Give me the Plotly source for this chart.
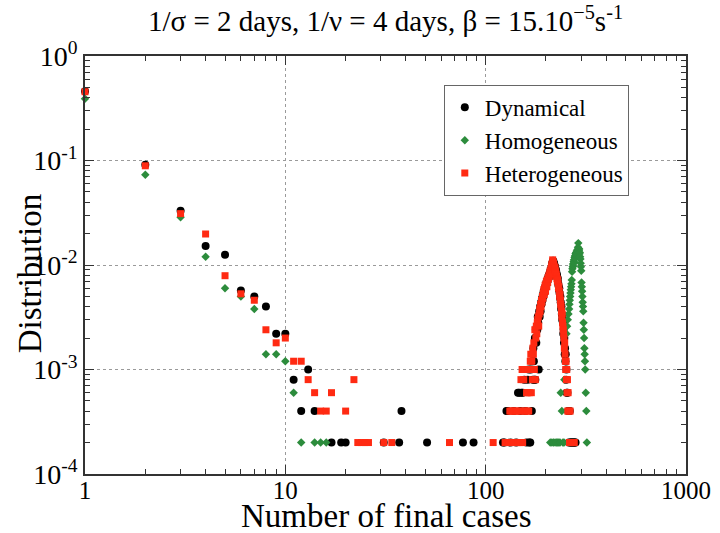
import plotly.graph_objects as go

# ---------------- data (distribution vs number of final cases) ----------------
dyn_x = [1, 2, 3, 4, 5, 6, 7, 8, 9, 10, 11, 12, 13, 14, 17, 19, 20, 31, 37, 38, 51, 77, 87,
         122, 124, 127, 129, 133, 138, 142, 145, 147, 149, 151, 153, 156, 158, 160, 162, 164, 165, 167, 168,
         170, 171, 172, 173, 174, 175, 176, 177, 178, 179, 180, 181, 182, 183, 184, 185, 186, 187, 188, 189,
         190, 191, 192, 193, 194, 195, 196, 197, 198, 199, 200, 201, 202, 203, 204, 205, 206, 207, 208, 209,
         210, 211, 212, 213, 214, 215, 216, 217, 218, 219, 220, 221, 222, 223, 224, 225, 226, 227, 228, 229,
         230, 231, 232, 233, 234, 235, 236, 237, 238, 239, 240, 241, 242, 243, 244, 245, 246, 247, 248, 249,
         250, 251, 252, 253, 254, 256, 258, 260, 263, 265, 267, 270, 273, 276, 279, 281]
dyn_y = [0.46, 0.091, 0.033, 0.0152, 0.0125, 0.0057, 0.0050, 0.0040, 0.0022, 0.0022, 0.0008, 0.0004, 0.0010,
         0.0004, 0.0002, 0.0002, 0.0002, 0.0002, 0.0002, 0.0004, 0.0002, 0.0002, 0.0002,
         0.0002, 0.0002, 0.0004, 0.0004, 0.0002, 0.0004, 0.0002, 0.0006, 0.0006, 0.0004, 0.0006, 0.0006, 0.0008,
         0.0004, 0.0002, 0.0008, 0.0010, 0.0002, 0.0002, 0.0010,
         0.0004, 0.0012, 0.0008, 0.0016, 0.0012, 0.0008, 0.0020, 0.0008, 0.0024, 0.0018, 0.0026, 0.0024, 0.0032,
         0.0028, 0.0010, 0.0036, 0.0032, 0.0040, 0.0036, 0.0044,
         0.0042, 0.0048, 0.0046, 0.0052, 0.0050, 0.0056, 0.0054, 0.0058, 0.0062, 0.0060, 0.0064, 0.0068, 0.0066,
         0.0070, 0.0074, 0.0072, 0.0078, 0.0076, 0.0082, 0.0080,
         0.0086, 0.0090, 0.0088, 0.0094, 0.0098, 0.0104, 0.0106, 0.0110, 0.0108, 0.0104, 0.0102, 0.0098, 0.0096,
         0.0092, 0.0090, 0.0086, 0.0082, 0.0080, 0.0076, 0.0074,
         0.0068, 0.0064, 0.0058, 0.0060, 0.0054, 0.0048, 0.0050, 0.0044, 0.0038, 0.0040, 0.0034, 0.0030, 0.0032,
         0.0028, 0.0022, 0.0024, 0.0018, 0.0020, 0.0014, 0.0016,
         0.0012, 0.0014, 0.0008, 0.0010, 0.0006, 0.0006, 0.0004, 0.0002, 0.0004, 0.0002, 0.0002, 0.0002, 0.0002,
         0.0002, 0.0002, 0.0002]

hom_x = [1, 2, 3, 4, 5, 6, 7, 8, 9, 10, 11, 12, 14, 15, 16,
         210, 214, 218, 222, 226, 229, 232, 235, 237, 240, 243, 246, 247, 250,
         253, 255, 257, 259, 261, 262, 263, 264, 265, 266, 267, 268, 269, 270, 271, 272, 273, 274, 275, 276,
         277, 278, 279, 280, 281, 282, 283, 284, 285, 286, 287, 288, 289, 290, 291, 292, 293, 294, 295, 296,
         297, 298, 299, 300, 301, 302, 303, 304, 305, 306, 307, 308, 309, 310, 311, 312, 313, 314, 316, 318, 320]
hom_y = [0.39, 0.073, 0.0286, 0.012, 0.0060, 0.0050, 0.0038, 0.0014, 0.0014, 0.0012, 0.0006, 0.0002, 0.0002,
         0.0002, 0.0002,
         0.0002, 0.0002, 0.0002, 0.0002, 0.0002, 0.0002, 0.0002, 0.0002, 0.0006, 0.0004, 0.0002, 0.0002, 0.0008,
         0.0012,
         0.0022, 0.0026, 0.0030, 0.0034, 0.0038, 0.0042, 0.0046, 0.0050, 0.0054, 0.0058, 0.0062, 0.0066, 0.0072,
         0.0086, 0.0092, 0.0096, 0.0102, 0.0098, 0.0108, 0.0112,
         0.0106, 0.0118, 0.0122, 0.0116, 0.0128, 0.0124, 0.0132, 0.0126, 0.0136, 0.0130, 0.0140, 0.0134, 0.0148,
         0.0162, 0.0144, 0.0138, 0.0142, 0.0128, 0.0132, 0.0120,
         0.0114, 0.0104, 0.0096, 0.0088, 0.0068, 0.0062, 0.0056, 0.0050, 0.0044, 0.0040, 0.0036, 0.0028, 0.0024,
         0.0020, 0.0016, 0.0014, 0.0012, 0.0010, 0.0006, 0.0004, 0.0002]

het_x = [1, 2, 3, 4, 5, 6, 7, 8, 9, 10, 11, 12, 13, 14, 15, 16, 17, 20, 22, 23, 24, 25, 26, 31, 34, 66,
         109, 125, 129, 131, 132, 134, 136, 137, 139, 141, 143, 145, 147, 148, 150, 151, 152, 153, 154, 155,
         156, 157, 158, 160, 161, 162, 163, 164, 165, 166, 167, 168, 169, 170, 171, 172, 173, 174, 175, 176,
         177, 178, 179, 180, 181, 182, 183, 184, 185, 186, 187, 188, 189, 190, 191, 192, 193, 194, 195, 196,
         197, 198, 199, 200, 201, 202, 203, 204, 205, 206, 207, 208, 209, 210, 211, 212, 213, 214, 215, 216,
         217, 218, 219, 220, 221, 222, 223, 224, 225, 226, 227, 228, 229, 230, 231, 232, 233, 234, 235, 236,
         237, 238, 239, 240, 241, 242, 243, 244, 245, 246, 247, 248, 249, 250, 251, 252, 253, 254, 255, 256,
         257, 258, 260, 262, 264, 266, 268, 271, 274, 277]
het_y = [0.455, 0.089, 0.031, 0.0198, 0.0079, 0.0053, 0.0046, 0.0024, 0.0018, 0.0020, 0.0012, 0.0012, 0.0008,
         0.0006, 0.0004, 0.0004, 0.0006, 0.0004, 0.0008, 0.0002, 0.0002, 0.0002, 0.0002, 0.0002, 0.0002, 0.0002,
         0.0002, 0.0002, 0.0002, 0.0002, 0.0004, 0.0004, 0.0004, 0.0002, 0.0002, 0.0004, 0.0004, 0.0002, 0.0004,
         0.0002, 0.0008, 0.0002, 0.0010, 0.0002, 0.0004, 0.0008,
         0.0010, 0.0004, 0.0010, 0.0006, 0.0004, 0.0006, 0.0010, 0.0004, 0.0006, 0.0010, 0.0012, 0.0014, 0.0006,
         0.0012, 0.0008, 0.0016, 0.0014, 0.0018, 0.0010, 0.0024,
         0.0008, 0.0020, 0.0026, 0.0022, 0.0028, 0.0030, 0.0032, 0.0026, 0.0034, 0.0038, 0.0036, 0.0042, 0.0040,
         0.0046, 0.0044, 0.0050, 0.0048, 0.0054, 0.0058, 0.0052,
         0.0060, 0.0064, 0.0056, 0.0066, 0.0070, 0.0062, 0.0072, 0.0068, 0.0076, 0.0074, 0.0080, 0.0078, 0.0084,
         0.0088, 0.0082, 0.0092, 0.0096, 0.0102, 0.0098, 0.0112,
         0.0108, 0.0104, 0.0100, 0.0096, 0.0092, 0.0094, 0.0088, 0.0086, 0.0082, 0.0078, 0.0074, 0.0070, 0.0072,
         0.0066, 0.0060, 0.0062, 0.0056, 0.0050, 0.0052, 0.0046,
         0.0042, 0.0040, 0.0036, 0.0032, 0.0034, 0.0028, 0.0026, 0.0024, 0.0022, 0.0020, 0.0016, 0.0018, 0.0014,
         0.0012, 0.0010, 0.0012, 0.0008, 0.0010, 0.0006, 0.0008,
         0.0004, 0.0006, 0.0004, 0.0002, 0.0004, 0.0002, 0.0002, 0.0002, 0.0002, 0.0002]

x_tickvals = [1, 10, 100, 1000]
x_ticktext = ["1", "10", "100", "1000"]
y_tickvals = [1e-4, 1e-3, 1e-2, 1e-1, 1]
y_ticktext = ["10<sup>-4</sup>", "10<sup>-3</sup>", "10<sup>-2</sup>", "10<sup>-1</sup>", "10<sup>0</sup>"]

TITLE = "1/σ = 2 days, 1/ν = 4 days, β = 15.10<sup>−5</sup>s<sup>-1</sup>"
XTITLE = "Number of final cases"
YTITLE = "Distribution"

SERIF = "Liberation Serif"

# minor tick positions (2..9 within each decade)
x_minor = [m * d for d in (1, 10, 100) for m in range(2, 10)]
y_minor = [m * d for d in (1e-4, 1e-3, 1e-2, 1e-1) for m in range(2, 10)]

fig = go.Figure()
fig.add_trace(go.Scatter(x=dyn_x, y=dyn_y, mode="markers", name="Dynamical", cliponaxis=False,
                         marker=dict(symbol="circle", size=8, color="#000000")))
fig.add_trace(go.Scatter(x=hom_x, y=hom_y, mode="markers", name="Homogeneous", cliponaxis=False,
                         marker=dict(symbol="diamond", size=6.5, color="#2c8c3c")))
fig.add_trace(go.Scatter(x=het_x, y=het_y, mode="markers", name="Heterogeneous", cliponaxis=False,
                         marker=dict(symbol="square", size=7, color="#ff2a12")))


def make_axis(rng, tv, tt, minor_vals, tsize, standoff):
    return dict(
        type="log", range=rng, tickmode="array", tickvals=tv, ticktext=tt,
        automargin=False,
        showline=True, linecolor="#333333", linewidth=1.5, mirror="allticks",
        ticks="inside", ticklen=9, tickcolor="#333333", tickwidth=1.3,
        ticklabelstandoff=standoff,
        showgrid=True, gridcolor="#9a9a9a", griddash="dot", gridwidth=1,
        zeroline=False,
        minor=dict(ticks="inside", ticklen=5, tickcolor="#333333", tickwidth=1,
                   tickmode="array", tickvals=minor_vals, showgrid=False),
        tickfont=dict(family=SERIF, size=tsize, color="#000000"),
    )


fig.update_layout(
    width=720, height=533,
    margin=dict(l=85, r=34, t=56, b=59),
    paper_bgcolor="white", plot_bgcolor="white",
    font=dict(family=SERIF, size=20, color="#000000"),
    xaxis=make_axis([0, 3], x_tickvals, x_ticktext, x_minor, 25, -7),
    yaxis=make_axis([-4, 0], y_tickvals, y_ticktext, y_minor, 28, 0),
    legend=dict(x=0.597, y=0.931, xanchor="left", yanchor="top",
                bgcolor="white", bordercolor="#666666", borderwidth=1,
                font=dict(family=SERIF, size=23, color="#000000"),
                tracegroupgap=0),
    showlegend=True,
    annotations=[
        dict(text=TITLE, xref="paper", yref="paper", x=0.5, y=1.088,
             xanchor="center", yanchor="middle", showarrow=False,
             font=dict(family=SERIF, size=29, color="#000000")),
        dict(text=XTITLE, xref="paper", yref="paper", x=0.5, y=-0.1,
             xanchor="center", yanchor="middle", showarrow=False,
             font=dict(family=SERIF, size=33, color="#000000")),
        dict(text=YTITLE, xref="paper", yref="paper", x=-0.0915, y=0.48,
             xanchor="center", yanchor="middle", textangle=-90, showarrow=False,
             font=dict(family=SERIF, size=33, color="#000000")),
    ],
)

fig.write_html("out.html")
